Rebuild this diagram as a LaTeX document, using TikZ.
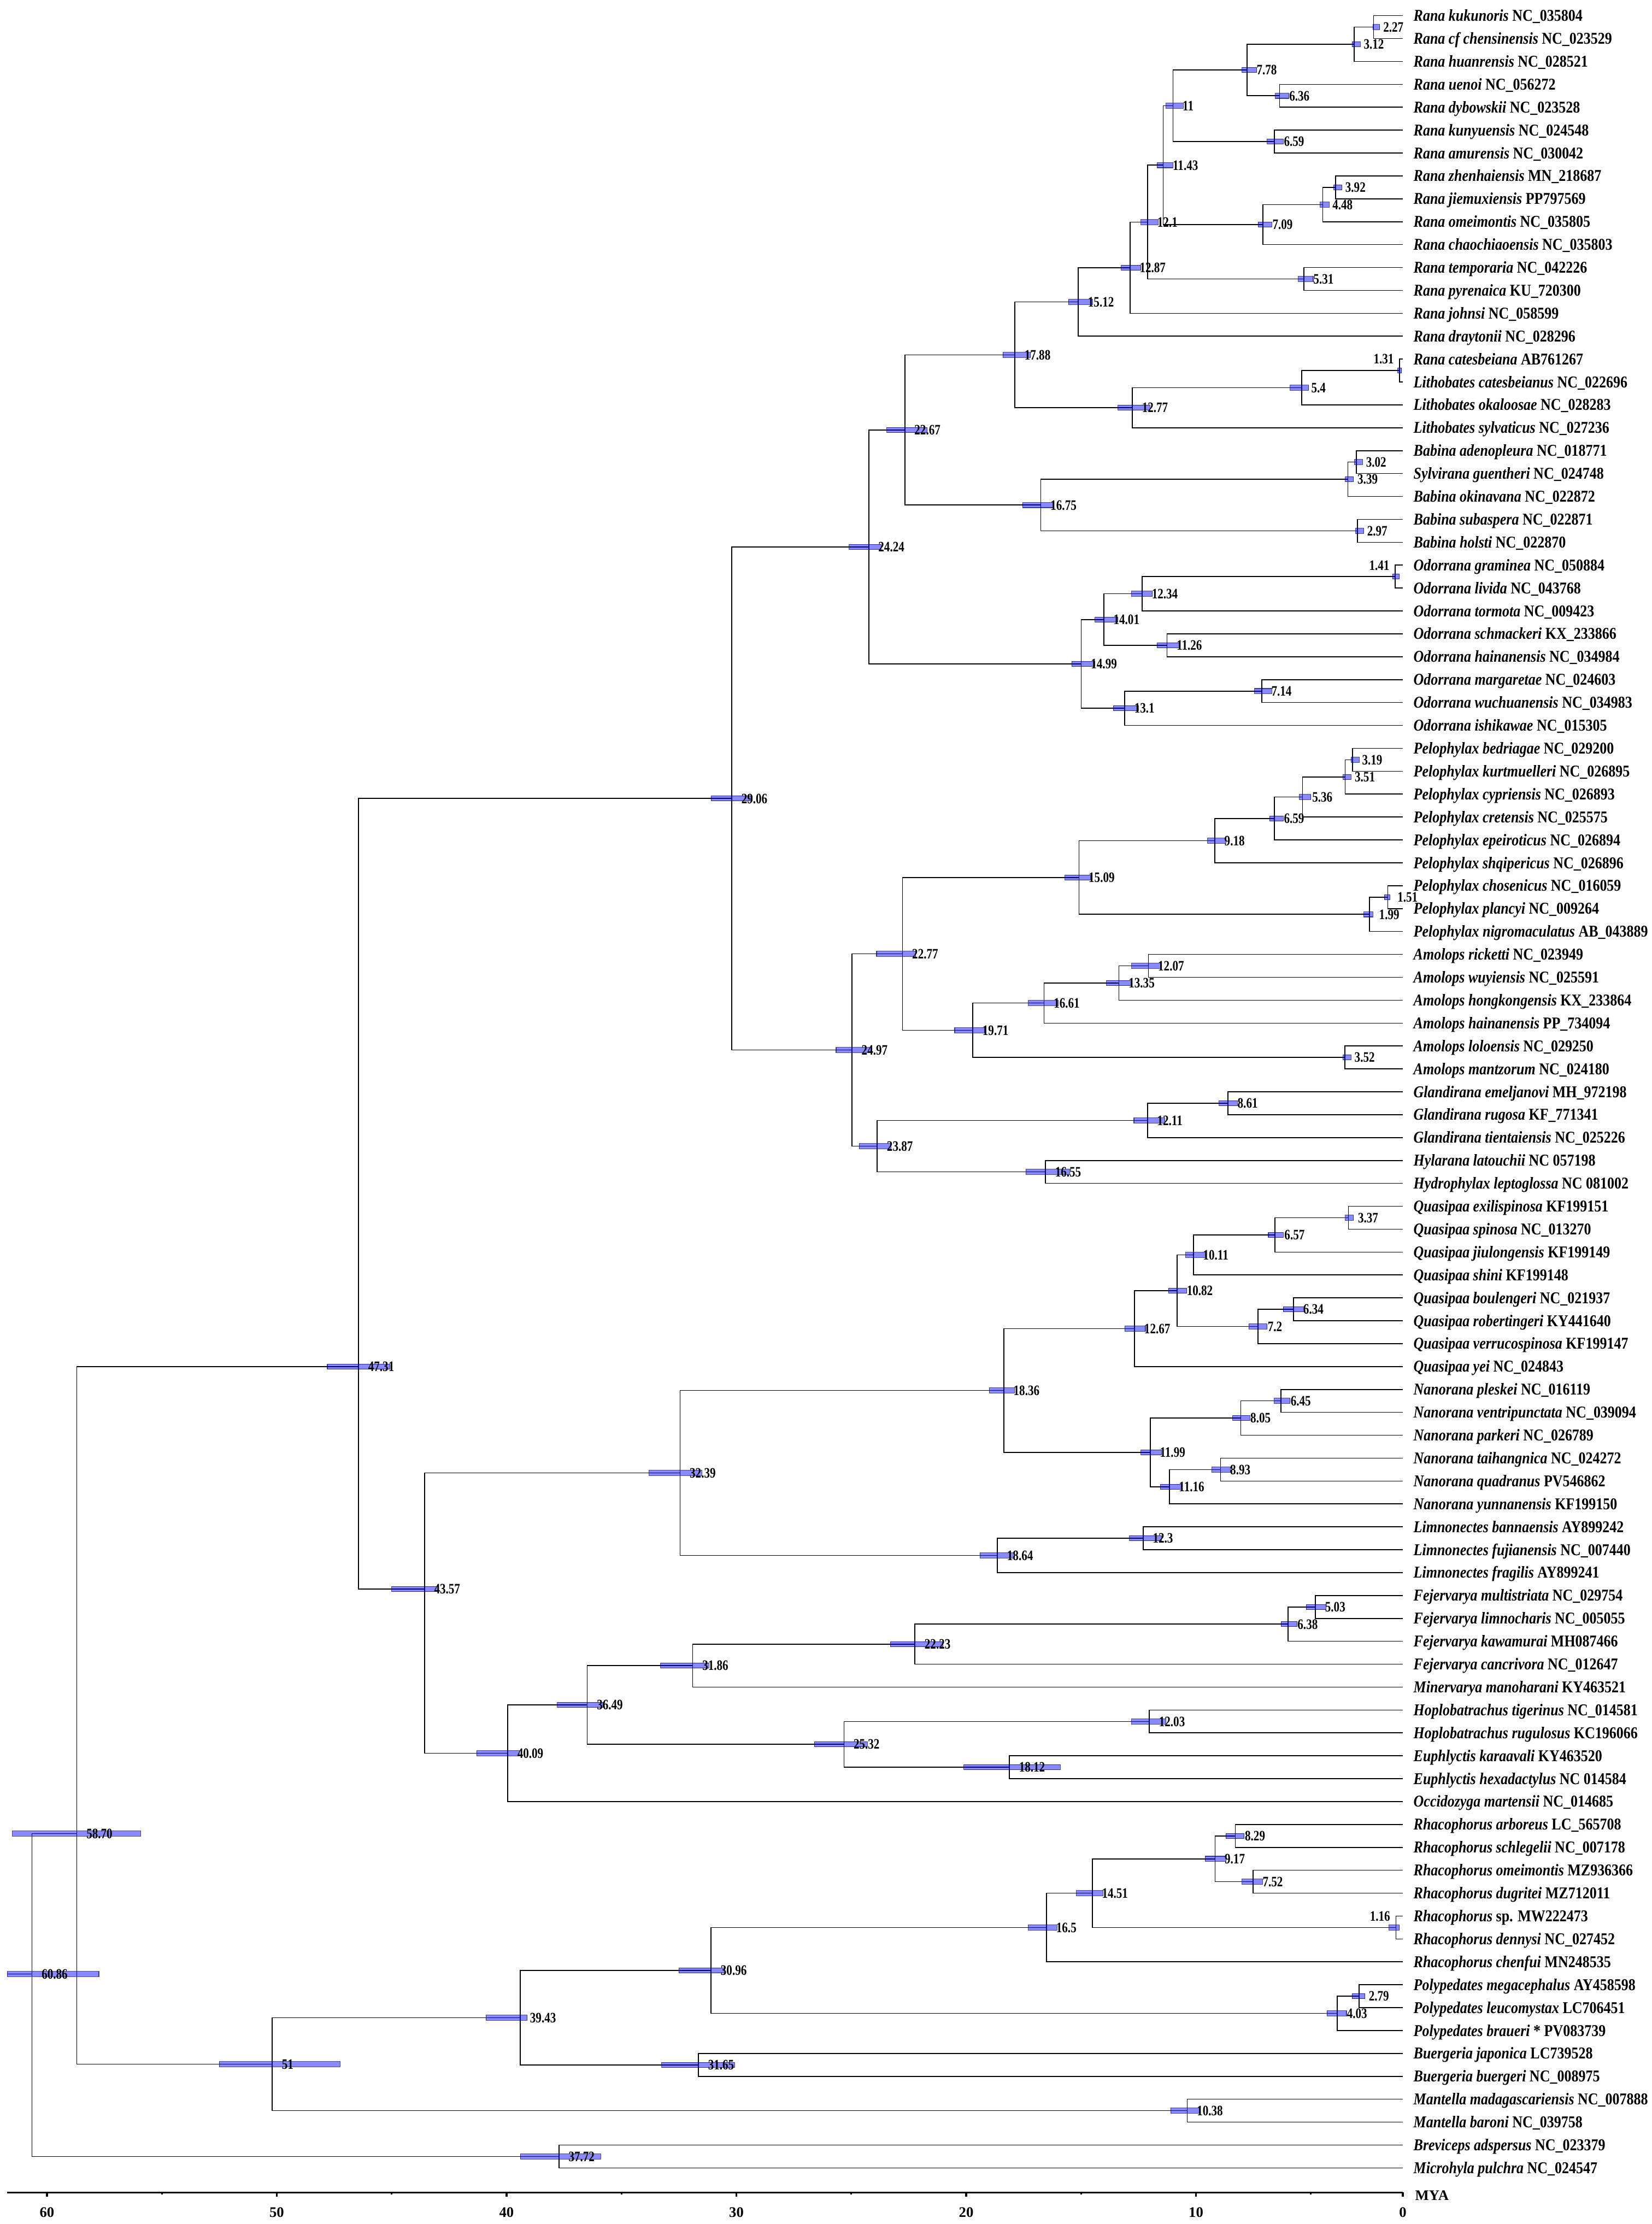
\documentclass[tikz,border=0pt]{standalone}
\usepackage{fontspec}
\newfontfamily\phylofont{Liberation Serif}[FakeStretch=0.86]
\newfontfamily\nodefont{Liberation Serif}[FakeStretch=0.8]
\newfontfamily\axisfamily{Liberation Serif}
\newcommand{\taxfont}{\phylofont\bfseries\fontsize{8.6}{10}\selectfont}
\newcommand{\agefont}{\nodefont\bfseries\fontsize{7.5}{9}\selectfont}
\newcommand{\axfont}{\axisfamily\bfseries\fontsize{7.6}{9}\selectfont}

\tikzset{
  branch/.style={line width=0.45pt},
  hpd/.style={fill=blue, fill opacity=0.46, draw=blue!40!black, draw opacity=0.7, line width=0.3pt},
  agelabel/.style={font=\agefont, anchor=base west, inner sep=0pt, xshift=0.17cm, yshift=-2.5pt},
  leftage/.style={font=\agefont, anchor=base east, inner sep=0pt, xshift=-0.1cm, yshift=-2.5pt},
  taxon/.style={font=\taxfont, anchor=base west, inner sep=0pt, xshift=0.19cm, yshift=-2.85pt},
  ticklabel/.style={font=\axfont, anchor=base, inner sep=0pt, yshift=-0.45cm},
}

% name / label / position (Myr) / row / HPD old / HPD young
\def\cladelist{%
n227/2.27/2.27/1.5/2.3/2.0,
n312/3.12/3.12/2.25/3.2/2.85,
n636/6.36/6.36/4.5/6.55/5.95,
n778/7.78/7.78/3.375/8.0/7.35,
n659r/6.59/6.59/6.5/6.9/6.2,
n11/11/11/4.9375/11.3/10.55,
n392/3.92/3.92/8.5/4.0/3.65,
n448/4.48/4.48/9.25/4.6/4.2,
n709/7.09/7.09/10.125/7.3/6.7,
n1143/11.43/11.43/7.53125/11.7/11.0,
n531/5.31/5.31/12.5/5.55/4.9,
n121/12.1/12.1/10.0156/12.4/11.65,
n1287/12.87/12.87/12.0078/13.25/12.4,
n1512/15.12/15.12/13.5039/15.55/14.5,
n54/5.4/5.4/17.25/5.9/5.1,
n1277/12.77/12.77/18.125/13.4/12.0,
n1788/17.88/17.88/15.8145/18.4/17.2,
n302/3.02/3.02/20.5/3.1/2.75,
n339/3.39/3.39/21.25/3.5/3.15,
n297/2.97/2.97/23.5/3.05/2.7,
n1675/16.75/16.75/22.375/17.55/16.2,
n2267/22.67/22.67/19.0947/23.45/21.7,
n1234/12.34/12.34/26.25/12.8/11.9,
n1126/11.26/11.26/28.5/11.7/10.7,
n1401/14.01/14.01/27.375/14.4/13.4,
n714/7.14/7.14/30.5/7.45/6.7,
n1310/13.1/13.1/31.25/13.6/12.5,
n1499/14.99/14.99/29.3125/15.4/14.4,
n2424/24.24/24.24/24.2036/25.1/23.7,
n319/3.19/3.19/33.5/3.25/2.9,
n351/3.51/3.51/34.25/3.6/3.25,
n536/5.36/5.36/35.125/5.5/5.0,
n659p/6.59/6.59/36.0625/6.8/6.2,
n918/9.18/9.18/37.0313/9.5/8.7,
n151/1.51/1.65/39.5/1.8/1.55,
n199/1.99/2.45/40.25/2.7/2.3,
n1509/15.09/15.09/38.6406/15.7/14.6,
n1207/12.07/12.07/42.5/12.8/11.5,
n1335/13.35/13.35/43.25/13.9/12.8,
n1661/16.61/16.61/44.125/17.3/16.0,
n352/3.52/3.52/46.5/3.6/3.25,
n1971/19.71/19.71/45.3125/20.5/19.2,
n2277/22.77/22.77/41.9766/23.9/22.2,
n861/8.61/8.61/48.5/9.0/8.2,
n1211/12.11/12.11/49.25/12.7/11.35,
n1655/16.55/16.55/51.5/17.4/15.5,
n2387/23.87/23.87/50.375/24.66/23.28,
n2497/24.97/24.97/46.1758/25.66/24.1,
n2906/29.06/30.2/35.1897/31.1/29.3,
n337/3.37/3.37/53.5/3.5/3.15,
n657/6.57/6.57/54.25/6.85/6.2,
n1011/10.11/10.11/55.125/10.45/9.6,
n634/6.34/5.75/57.5/6.2/5.3,
n72/7.2/7.3/58.25/7.7/6.9,
n1082/10.82/10.82/56.6875/11.2/10.4,
n1267/12.67/12.67/58.3438/13.1/12.2,
n645/6.45/6.3/61.5/6.6/5.9,
n805/8.05/8.05/62.25/8.4/7.65,
n893/8.93/8.93/64.5/9.3/8.5,
n1116/11.16/11.16/65.25/11.55/10.65,
n1199/11.99/11.99/63.75/12.4/11.5,
n1836/18.36/18.36/61.0469/19.0/17.9,
n123/12.3/12.3/67.5/12.9/11.5,
n1864/18.64/18.64/68.25/19.4/17.9,
n3239/32.39/32.45/64.6484/33.8/31.5,
n503/5.03/4.8/70.5/5.2/4.35,
n638/6.38/6.0/71.25/6.3/5.6,
n2223/22.23/22.23/72.125/23.3/21.0,
n3186/31.86/31.9/73.0625/33.3/31.2,
n1203/12.03/12.03/75.5/12.8/11.3,
n1812/18.12/18.12/77.5/20.1/15.9,
n2532/25.32/25.32/76.5/26.6/24.3,
n3649/36.49/36.49/74.7813/37.8/35.8,
n4009/40.09/39.95/76.8906/41.3/39.45,
n4357/43.57/43.57/69.72/45.0/42.95,
n4731/47.31/46.44/60.0/47.8/45.07,
n5870/58.70/58.70/80.4/61.5/55.93,
n6086/60.86/60.65/86.53/61.73/57.74,
n829/8.29/8.29/80.5/8.7/7.9,
n752/7.52/7.52/82.5/8.0/7.1,
n917/9.17/9.17/81.5/9.6/8.7,
n1451/14.51/14.51/83/15.2/14.05,
n165/16.5/16.5/84.5/17.3/16.05,
n279/2.79/2.9/87.5/3.2/2.65,
n403/4.03/3.85/88.25/4.3/3.45,
n3096/30.96/31.1/86.375/32.5/30.5,
n3165/31.65/31.65/90.5/33.25/30.08,
n3943/39.43/39.4/88.4375/40.9/39.1,
n1038/10.38/10.38/92.5/11.1/9.85,
n51/51/50.2/90.4688/52.5/47.25,
n3772/37.72/37.72/94.5/39.4/35.9}

% clades whose age sits left of the node, on the upper tip row
\def\leftlist{%
n131/1.31/1.14/16.5/1.22/1.05/t16,
n141/1.41/1.33/25.5/1.45/1.15/t25,
n116/1.16/1.3/84.5/1.6/1.15/t84}

\begin{document}
\begin{tikzpicture}[x=-0.4205cm, y=-0.419cm]
  \useasboundingbox (62.045,0.317) rectangle (-9.822,97.45);

  % internal nodes and tips
  \foreach \nm/\lab/\ps/\rw/\lo/\hi in \cladelist
    \coordinate (\nm) at (\ps,\rw);
  \foreach \nm/\lab/\ps/\rw/\lo/\hi/\up in \leftlist
    \coordinate (\nm) at (\ps,\rw);
  \foreach \i in {1,...,95}
    \coordinate (t\i) at (1.0,\i);
  \coordinate (rootstub) at (61.73,86.53);

  % branches
  \draw[branch] (rootstub) -- (n6086);
  \foreach \p/\c in {n6086/n5870, n6086/n3772, n3772/t94, n3772/t95,
      n5870/n4731, n5870/n51, n51/n3943, n51/n1038, n1038/t92, n1038/t93,
      n3943/n3096, n3943/n3165, n3165/t90, n3165/t91, n3096/n165, n3096/n403,
      n403/n279, n403/t89, n279/t87, n279/t88, n165/n1451, n165/t86,
      n1451/n917, n1451/n116, n116/t84, n116/t85, n917/n829, n917/n752,
      n829/t80, n829/t81, n752/t82, n752/t83,
      n4731/n2906, n4731/n4357, n4357/n3239, n4357/n4009, n4009/n3649, n4009/t79,
      n3649/n3186, n3649/n2532, n3186/n2223, n3186/t74, n2223/n638, n2223/t73,
      n638/n503, n638/t72, n503/t70, n503/t71, n2532/n1203, n2532/n1812,
      n1203/t75, n1203/t76, n1812/t77, n1812/t78,
      n3239/n1836, n3239/n1864, n1864/n123, n1864/t69, n123/t67, n123/t68,
      n1836/n1267, n1836/n1199, n1267/n1082, n1267/t60, n1082/n1011, n1082/n72,
      n1011/n657, n1011/t56, n657/n337, n657/t55, n337/t53, n337/t54,
      n72/n634, n72/t59, n634/t57, n634/t58, n1199/n805, n1199/n1116,
      n805/n645, n805/t63, n645/t61, n645/t62, n1116/n893, n1116/t66,
      n893/t64, n893/t65,
      n2906/n2424, n2906/n2497, n2497/n2277, n2497/n2387, n2387/n1211, n2387/n1655,
      n1655/t51, n1655/t52, n1211/n861, n1211/t50, n861/t48, n861/t49,
      n2277/n1509, n2277/n1971, n1971/n1661, n1971/n352, n352/t46, n352/t47,
      n1661/n1335, n1661/t45, n1335/n1207, n1335/t44, n1207/t42, n1207/t43,
      n1509/n918, n1509/n199, n199/n151, n199/t41, n151/t39, n151/t40,
      n918/n659p, n918/t38, n659p/n536, n659p/t37, n536/n351, n536/t36,
      n351/n319, n351/t35, n319/t33, n319/t34,
      n2424/n2267, n2424/n1499, n1499/n1401, n1499/n1310, n1310/n714, n1310/t32,
      n714/t30, n714/t31, n1401/n1234, n1401/n1126, n1234/n141, n1234/t27,
      n141/t25, n141/t26, n1126/t28, n1126/t29,
      n2267/n1788, n2267/n1675, n1675/n339, n1675/n297, n297/t23, n297/t24,
      n339/n302, n339/t22, n302/t20, n302/t21, n1788/n1512, n1788/n1277,
      n1277/n54, n1277/t19, n54/n131, n54/t18, n131/t16, n131/t17,
      n1512/n1287, n1512/t15, n1287/n121, n1287/t14, n121/n1143, n121/n531,
      n531/t12, n531/t13, n1143/n11, n1143/n709, n709/n448, n709/t11,
      n448/n392, n448/t10, n392/t8, n392/t9, n11/n778, n11/n659r,
      n659r/t6, n659r/t7, n778/n312, n778/n636, n636/t4, n636/t5,
      n312/n227, n312/t3, n227/t1, n227/t2}
    \draw[branch] (\p) |- (\c);

  % 95% HPD bars
  \foreach \nm/\lab/\ps/\rw/\lo/\hi in \cladelist
    \path[hpd] (\lo,\rw-0.113) rectangle (\hi,\rw+0.113);
  \foreach \nm/\lab/\ps/\rw/\lo/\hi/\up in \leftlist
    \path[hpd] (\lo,\rw-0.113) rectangle (\hi,\rw+0.113);

  % node ages
  \foreach \nm/\lab/\ps/\rw/\lo/\hi in \cladelist
    \node[agelabel] (l\nm) at (\nm) {\lab};
  \foreach \nm/\lab/\ps/\rw/\lo/\hi/\up in \leftlist
    \node[leftage] (l\nm) at (\nm |- \up) {\lab};

  % taxa
  \foreach \i/\txt in {
      1/{\textit{Rana kukunoris} NC\_035804},
      2/{\textit{Rana cf chensinensis} NC\_023529},
      3/{\textit{Rana huanrensis} NC\_028521},
      4/{\textit{Rana uenoi} NC\_056272},
      5/{\textit{Rana dybowskii} NC\_023528},
      6/{\textit{Rana kunyuensis} NC\_024548},
      7/{\textit{Rana amurensis} NC\_030042},
      8/{\textit{Rana zhenhaiensis} MN\_218687},
      9/{\textit{Rana jiemuxiensis} PP797569},
      10/{\textit{Rana omeimontis} NC\_035805},
      11/{\textit{Rana chaochiaoensis} NC\_035803},
      12/{\textit{Rana temporaria} NC\_042226},
      13/{\textit{Rana pyrenaica} KU\_720300},
      14/{\textit{Rana johnsi} NC\_058599},
      15/{\textit{Rana draytonii} NC\_028296},
      16/{\textit{Rana catesbeiana} AB761267},
      17/{\textit{Lithobates catesbeianus} NC\_022696},
      18/{\textit{Lithobates okaloosae} NC\_028283},
      19/{\textit{Lithobates sylvaticus} NC\_027236},
      20/{\textit{Babina adenopleura} NC\_018771},
      21/{\textit{Sylvirana guentheri} NC\_024748},
      22/{\textit{Babina okinavana} NC\_022872},
      23/{\textit{Babina subaspera} NC\_022871},
      24/{\textit{Babina holsti} NC\_022870},
      25/{\textit{Odorrana graminea} NC\_050884},
      26/{\textit{Odorrana livida} NC\_043768},
      27/{\textit{Odorrana tormota} NC\_009423},
      28/{\textit{Odorrana schmackeri} KX\_233866},
      29/{\textit{Odorrana hainanensis} NC\_034984},
      30/{\textit{Odorrana margaretae} NC\_024603},
      31/{\textit{Odorrana wuchuanensis} NC\_034983},
      32/{\textit{Odorrana ishikawae} NC\_015305},
      33/{\textit{Pelophylax bedriagae} NC\_029200},
      34/{\textit{Pelophylax kurtmuelleri} NC\_026895},
      35/{\textit{Pelophylax cypriensis} NC\_026893},
      36/{\textit{Pelophylax cretensis} NC\_025575},
      37/{\textit{Pelophylax epeiroticus} NC\_026894},
      38/{\textit{Pelophylax shqipericus} NC\_026896},
      39/{\textit{Pelophylax chosenicus} NC\_016059},
      40/{\textit{Pelophylax plancyi} NC\_009264},
      41/{\textit{Pelophylax nigromaculatus} AB\_043889},
      42/{\textit{Amolops ricketti} NC\_023949},
      43/{\textit{Amolops wuyiensis} NC\_025591},
      44/{\textit{Amolops hongkongensis} KX\_233864},
      45/{\textit{Amolops hainanensis} PP\_734094},
      46/{\textit{Amolops loloensis} NC\_029250},
      47/{\textit{Amolops mantzorum} NC\_024180},
      48/{\textit{Glandirana emeljanovi} MH\_972198},
      49/{\textit{Glandirana rugosa} KF\_771341},
      50/{\textit{Glandirana tientaiensis} NC\_025226},
      51/{\textit{Hylarana latouchii} NC 057198},
      52/{\textit{Hydrophylax leptoglossa} NC 081002},
      53/{\textit{Quasipaa exilispinosa} KF199151},
      54/{\textit{Quasipaa spinosa} NC\_013270},
      55/{\textit{Quasipaa jiulongensis} KF199149},
      56/{\textit{Quasipaa shini} KF199148},
      57/{\textit{Quasipaa boulengeri} NC\_021937},
      58/{\textit{Quasipaa robertingeri} KY441640},
      59/{\textit{Quasipaa verrucospinosa} KF199147},
      60/{\textit{Quasipaa yei} NC\_024843},
      61/{\textit{Nanorana pleskei} NC\_016119},
      62/{\textit{Nanorana ventripunctata} NC\_039094},
      63/{\textit{Nanorana parkeri} NC\_026789},
      64/{\textit{Nanorana taihangnica} NC\_024272},
      65/{\textit{Nanorana quadranus} PV546862},
      66/{\textit{Nanorana yunnanensis} KF199150},
      67/{\textit{Limnonectes bannaensis} AY899242},
      68/{\textit{Limnonectes fujianensis} NC\_007440},
      69/{\textit{Limnonectes fragilis} AY899241},
      70/{\textit{Fejervarya multistriata} NC\_029754},
      71/{\textit{Fejervarya limnocharis} NC\_005055},
      72/{\textit{Fejervarya kawamurai} MH087466},
      73/{\textit{Fejervarya cancrivora} NC\_012647},
      74/{\textit{Minervarya manoharani} KY463521},
      75/{\textit{Hoplobatrachus tigerinus} NC\_014581},
      76/{\textit{Hoplobatrachus rugulosus} KC196066},
      77/{\textit{Euphlyctis karaavali} KY463520},
      78/{\textit{Euphlyctis hexadactylus} NC 014584},
      79/{\textit{Occidozyga martensii} NC\_014685},
      80/{\textit{Rhacophorus arboreus} LC\_565708},
      81/{\textit{Rhacophorus schlegelii} NC\_007178},
      82/{\textit{Rhacophorus omeimontis} MZ936366},
      83/{\textit{Rhacophorus dugritei} MZ712011},
      84/{\textit{Rhacophorus} sp. MW222473},
      85/{\textit{Rhacophorus dennysi} NC\_027452},
      86/{\textit{Rhacophorus chenfui} MN248535},
      87/{\textit{Polypedates megacephalus} AY458598},
      88/{\textit{Polypedates leucomystax} LC706451},
      89/{\textit{Polypedates braueri} * PV083739},
      90/{\textit{Buergeria japonica} LC739528},
      91/{\textit{Buergeria buergeri} NC\_008975},
      92/{\textit{Mantella madagascariensis} NC\_007888},
      93/{\textit{Mantella baroni} NC\_039758},
      94/{\textit{Breviceps adspersus} NC\_023379},
      95/{\textit{Microhyla pulchra} NC\_024547}}
    \node[taxon] (tx\i) at (t\i) {\txt};

  % time axis
  \coordinate (axl) at (61.73,96.07);
  \coordinate (axr) at (1.0,96.07);
  \draw[line width=0.9pt] (axl) -- (axr);
  \foreach \t in {60,50,...,10} {
    \draw[line width=0.9pt] (\t,96.07) -- ++(0,0.19);
    \node[ticklabel] (tk\t) at (\t,96.07) {\t};
  }
  \foreach \t in {55,45,...,5}
    \draw[line width=0.9pt] (\t,96.07) -- ++(0,0.095);
  \draw[line width=0.9pt] (axr) -- ++(0,0.19);
  \node[ticklabel] (tk0) at (axr) {0};
  \node[font=\axfont, anchor=west, inner sep=0pt, xshift=0.22cm, yshift=-0.05cm] (mya) at (axr) {MYA};
\end{tikzpicture}
\end{document}
